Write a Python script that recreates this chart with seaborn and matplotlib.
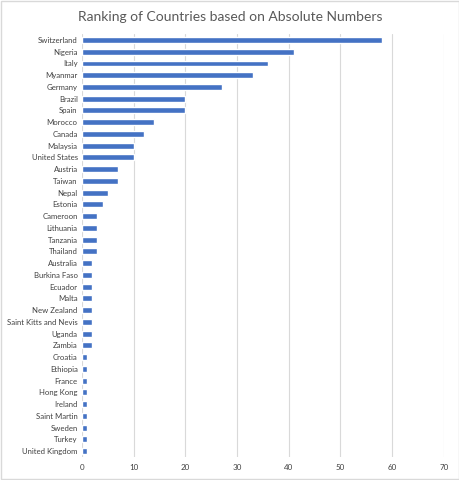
import matplotlib
matplotlib.use("Agg")
import matplotlib.pyplot as plt
import seaborn as sns
import pandas as pd
from matplotlib.patches import Rectangle

countries = ["Switzerland", "Nigeria", "Italy", "Myanmar", "Germany", "Brazil", "Spain",
             "Morocco", "Canada", "Malaysia", "United States", "Austria", "Taiwan", "Nepal",
             "Estonia", "Cameroon", "Lithuania", "Tanzania", "Thailand", "Australia",
             "Burkina Faso", "Ecuador", "Malta", "New Zealand", "Saint Kitts and Nevis",
             "Uganda", "Zambia", "Croatia", "Ethiopia", "France", "Hong Kong", "Ireland",
             "Saint Martin", "Sweden", "Turkey", "United Kingdom"]
values = [58, 41, 36, 33, 27, 20, 20, 14, 12, 10, 10, 7, 7, 5, 4, 3, 3, 3, 3, 2,
          2, 2, 2, 2, 2, 2, 2, 1, 1, 1, 1, 1, 1, 1, 1, 1]
xticks = [0, 10, 20, 30, 40, 50, 60, 70]

sns.set_theme(style="white")
plt.rcParams['font.family'] = ['Lato', 'DejaVu Sans']

df = pd.DataFrame({"country": countries, "value": values})

fig = plt.figure(figsize=(4.6, 4.8), dpi=100)
ax = fig.add_axes([0.178, 0.048, 0.787, 0.881])
sns.barplot(data=df, x="value", y="country", color="#4472C4", width=0.5, ax=ax,
            saturation=1)
ax.set_xlim(0, 70)
ax.set_xticks(xticks)
ax.set_xticklabels([str(t) for t in xticks])
ax.set_ylim(len(countries) - 0.5, -0.5)
ax.grid(axis="x", color="#d9d9d9", linewidth=0.8)
ax.set_axisbelow(True)
for s in ax.spines.values():
    s.set_visible(False)
ax.set_xlabel("")
ax.set_ylabel("")
ax.tick_params(axis="y", labelsize=5.6, length=0, pad=3)
ax.tick_params(axis="x", labelsize=5.8, length=0, pad=5)
for lab in ax.get_yticklabels() + ax.get_xticklabels():
    lab.set_color("#404040")
fig.text(0.5, 0.965, "Ranking of Countries based on Absolute Numbers", ha="center",
         va="center", fontsize=10, color="#595959")
fig.patches.append(Rectangle((0.002, 0.002), 0.996, 0.996, transform=fig.transFigure,
                             fill=False, edgecolor="#d9d9d9", linewidth=1))
fig.savefig("out.png", dpi=100)
